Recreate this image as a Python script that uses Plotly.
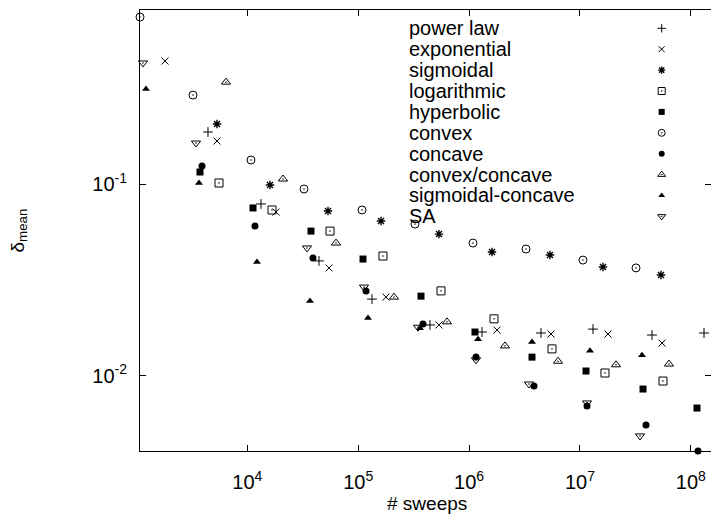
import plotly.graph_objects as go

# ---------------- data ----------------
series_names = ["power law", "exponential", "sigmoidal", "logarithmic", "hyperbolic",
                "convex", "concave", "convex/concave", "sigmoidal-concave", "SA"]

power_law_x = [4422, 13290, 44310, 133200, 444000, 1.307e6, 4.449e6, 1.310e7, 4.459e7, 1.313e8]
power_law_y = [0.1868, 0.0787, 0.0397, 0.0251, 0.0184, 0.0169, 0.0167, 0.0175, 0.0163, 0.0167]

exponential_x = [1811, 5331, 18150, 54540, 178100, 535300, 1.785e6, 5.476e6, 1.788e7, 5.489e7]
exponential_y = [0.438, 0.1676, 0.0714, 0.0365, 0.0257, 0.0184, 0.0173, 0.0165, 0.0165, 0.0148]

sigmoidal_x = [5331, 16020, 53420, 160600, 535300, 1.609e6, 5.364e6, 1.612e7, 5.376e7]
sigmoidal_y = [0.2056, 0.0988, 0.0723, 0.0641, 0.0548, 0.0442, 0.0426, 0.0369, 0.0335]

logarithmic_x = [5557, 16700, 55690, 167300, 557900, 1.677e6, 5.591e6, 1.680e7, 5.602e7]
logarithmic_y = [0.1012, 0.0732, 0.0568, 0.0421, 0.0277, 0.0198, 0.0138, 0.01033, 0.00938]

hyperbolic_x = [3745, 11260, 37530, 110500, 368500, 1.130e6, 3.692e6, 1.133e7, 3.700e7, 1.135e8]
hyperbolic_y = [0.1155, 0.0750, 0.0568, 0.0406, 0.0260, 0.0169, 0.0125, 0.01058, 0.00852, 0.00678]

convex_x = [1078, 3239, 10800, 32460, 108200, 325300, 1.084e6, 3.260e6, 1.064e7, 3.199e7]
convex_y = [0.743, 0.291, 0.1334, 0.0942, 0.0732, 0.0618, 0.0492, 0.0458, 0.0401, 0.0365]

concave_x = [3905, 11730, 39120, 117600, 384100, 1.154e6, 3.848e6, 1.157e7, 3.937e7, 1.159e8]
concave_y = [0.1241, 0.0604, 0.0411, 0.0277, 0.0186, 0.0125, 0.00884, 0.00695, 0.00553, 0.00405]

convex_concave_x = [2138, 6427, 20990, 63070, 210300, 632000, 2.107e6, 6.334e6, 2.112e7, 6.344e7]
convex_concave_y = [0.818, 0.340, 0.1062, 0.0492, 0.0257, 0.0191, 0.0143, 0.0119, 0.0114, 0.0115]

sigmoidal_concave_x = [1221, 3669, 12230, 36760, 122600, 360900, 1.203e6, 3.692e6, 1.231e7, 3.624e7]
sigmoidal_concave_y = [0.313, 0.1012, 0.0392, 0.0245, 0.0200, 0.0177, 0.0155, 0.0150, 0.0135, 0.0128]

sa_x = [1147, 3447, 34540, 112800, 346200, 1.154e6, 3.468e6, 1.157e7, 3.476e7]
sa_y = [0.428, 0.1636, 0.0464, 0.0290, 0.0179, 0.0121, 0.00905, 0.00721, 0.00485]

x_tick_vals = [1e4, 1e5, 1e6, 1e7, 1e8]
x_tick_text = ["10<sup>4</sup>", "10<sup>5</sup>", "10<sup>6</sup>", "10<sup>7</sup>", "10<sup>8</sup>"]
y_tick_vals = [1e-1, 1e-2]
y_tick_text = ["10<sup>-1</sup>", "10<sup>-2</sup>"]

# ---------------- styles ----------------
all_x = [power_law_x, exponential_x, sigmoidal_x, logarithmic_x, hyperbolic_x,
         convex_x, concave_x, convex_concave_x, sigmoidal_concave_x, sa_x]
all_y = [power_law_y, exponential_y, sigmoidal_y, logarithmic_y, hyperbolic_y,
         convex_y, concave_y, convex_concave_y, sigmoidal_concave_y, sa_y]
symbols = ["cross-thin-open", "x-thin-open", "asterisk-open", "square-open-dot", "square",
           "circle-open-dot", "circle", "triangle-up-open-dot", "triangle-up", "triangle-down-open-dot"]
sizes = [7, 7, 7, 8, 7, 8, 7, 8, 7, 8]
line_widths = [1, 1, 1.4, 1, 0, 1, 0, 1, 0, 1]
filled = {"square", "circle", "triangle-up"}

FONT = "Liberation Sans, Arial, Helvetica, sans-serif"
W, H = 711, 515
L, R, T, B = 140, 0, 10, 64
pw, ph = W - L - R, H - T - B

fig = go.Figure()

def marker_style(sym, size, lw):
    if sym in filled:
        return dict(symbol=sym, size=size, color="black", line=dict(width=0))
    return dict(symbol=sym, size=size, color="black", line=dict(width=lw, color="black"))

for name, xs, ys, sym, sz, lw in zip(series_names, all_x, all_y, symbols, sizes, line_widths):
    fig.add_trace(go.Scatter(x=xs, y=ys, mode="markers", name=name, showlegend=False,
                             cliponaxis=False, marker=marker_style(sym, sz, lw)))

# ---------------- custom legend (text left, symbol right) ----------------
leg_text_x = (406.7 - L) / pw
leg_sym_x = (661.7 - L) / pw
leg_top_px, row_px = 28.3, 20.9
for i, (name, sym, sz, lw) in enumerate(zip(series_names, symbols, sizes, line_widths)):
    py = leg_top_px + i * row_px
    yf = (H - B - py) / ph
    fig.add_annotation(xref="paper", yref="paper", x=leg_text_x, y=yf, text=name,
                       showarrow=False, xanchor="left", yanchor="middle",
                       font=dict(family=FONT, size=20, color="black"))
    fig.add_trace(go.Scatter(x=[leg_sym_x], y=[yf], mode="markers", showlegend=False,
                             xaxis="x2", yaxis="y2", cliponaxis=False, hoverinfo="skip",
                             marker=marker_style(sym, sz - 1, lw)))

# axis titles
fig.add_annotation(xref="paper", yref="paper", x=(18 - L) / pw, y=0.5, text="δ<sub>mean</sub>",
                   textangle=-90, showarrow=False, xanchor="center", yanchor="middle",
                   font=dict(family=FONT, size=19, color="black"))
fig.add_annotation(xref="paper", yref="paper", x=(427 - L) / pw, y=-(503 - (H - B)) / ph,
                   text="# sweeps", showarrow=False, xanchor="center", yanchor="middle",
                   borderpad=0,
                   font=dict(family=FONT, size=19, color="black"))

axis_common = dict(showline=True, linecolor="black", linewidth=1, mirror="ticks",
                   ticks="inside", ticklen=6, tickwidth=1, tickcolor="black",
                   showgrid=False, zeroline=False,
                   tickfont=dict(family=FONT, size=20, color="black"))

fig.update_layout(
    width=W, height=H,
    margin=dict(l=L, r=R, t=T, b=B),
    paper_bgcolor="white", plot_bgcolor="white",
    showlegend=False,
    font=dict(family=FONT, color="black"),
    xaxis=dict(type="log", range=[3.0325, 8.1813], tickvals=x_tick_vals, ticktext=x_tick_text,
               ticklabelstandoff=13, **axis_common),
    yaxis=dict(type="log", range=[-2.3928, -0.0923], tickvals=y_tick_vals, ticktext=y_tick_text,
               ticklabelstandoff=8, **axis_common),
    xaxis2=dict(overlaying="x", anchor="y2", range=[0, 1], visible=False, fixedrange=True),
    yaxis2=dict(overlaying="y", anchor="x2", range=[0, 1], visible=False, fixedrange=True),
)

fig.write_html("out.html")
